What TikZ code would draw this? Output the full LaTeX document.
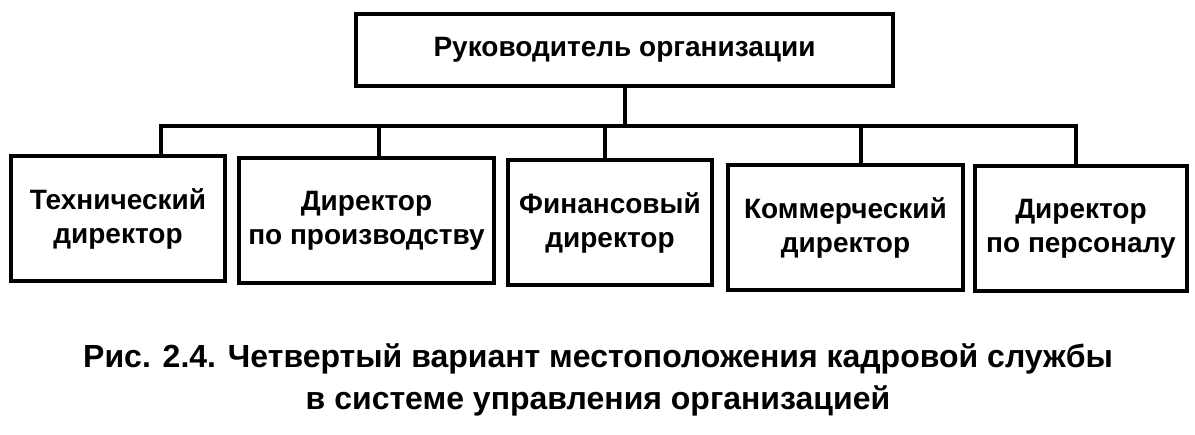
\documentclass[tikz,border=0pt]{standalone}
\usepackage{fontspec}
\setmainfont{Liberation Sans}
\usetikzlibrary{positioning}

\begin{document}
\begin{tikzpicture}[x=1pt,y=-1pt,line width=4pt,
                    box/.style={draw,rectangle,align=center,inner sep=0pt,minimum height=125pt,
                                font=\fontsize{28}{34}\selectfont\bfseries},
                    caption/.style={anchor=base,inner sep=0pt,font=\fontsize{32}{38}\selectfont\bfseries}]
  \useasboundingbox (0,0) rectangle (1195,435);
  \node[box,minimum width=537pt,minimum height=72pt] (head) at (624.5,50) {Руководитель организации};
  \node[box,minimum width=214pt] (tech) at (118,218.5) {Технический\\директор};
  \node[box,minimum width=255pt] (prod) [right=10pt of tech,yshift=-2pt] {Директор\\по производству};
  \node[box,minimum width=204pt] (fin) [right=10pt of prod,yshift=-2pt] {Финансовый\\директор};
  \node[box,minimum width=235pt] (com) [right=12pt of fin,yshift=-5pt] {Коммерческий\\директор};
  \node[box,minimum width=212pt] (pers) [right=8pt of com,yshift=-1pt] {Директор\\по персоналу};

  \coordinate (busl) at (161,126);
  \coordinate (busr) at (1076,126);
  \draw (head.south) -- (head.south |- busl);
  \draw (busl |- tech.north) -- (busl) -- (busr) -- (busr |- pers.north);
  \foreach \x/\n in {379/prod,605/fin,861/com}
    \draw (\x,126) -- (\x,126 |- \n.north);

  \node[caption] (cap1) at (598,368) {Рис. 2.4. Четвертый вариант местоположения кадровой службы};
  \node[caption] (cap2) at (598,410) {в системе управления организацией};
\end{tikzpicture}
\end{document}
